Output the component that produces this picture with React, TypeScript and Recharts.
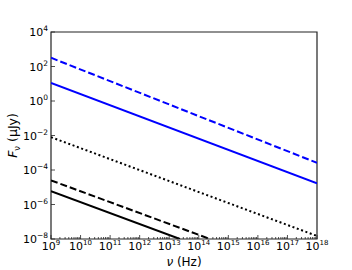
import { LineChart, Line, XAxis, YAxis, ReferenceArea } from "recharts"

// spectra (nu in Hz, flux in uJy); straight lines in log-log
const blueDashed = [
    { nu: 1e9, f: 320 },
    { nu: 1e18, f: 2.6e-4 },
]
const blueSolid = [
    { nu: 1e9, f: 11 },
    { nu: 1e18, f: 1.7e-5 },
]
const blackDotted = [
    { nu: 1e9, f: 8e-3 },
    { nu: 1e18, f: 1.5e-8 },
]
const blackDashed = [
    { nu: 1e9, f: 2.5e-5 },
    { nu: 2.4e14, f: 1e-8 },
]
const blackSolid = [
    { nu: 1e9, f: 6e-6 },
    { nu: 2.3e13, f: 1e-8 },
]

const xExponents = [9, 10, 11, 12, 13, 14, 15, 16, 17, 18]
const yExponents = [-8, -6, -4, -2, 0, 2, 4]

const LEFT = 51
const RIGHT = 317
const TOP = 32
const BOTTOM = 239
const W = 352
const H = 270
const FONT = "DejaVu Sans, sans-serif"

const xMinor: number[] = []
xExponents.slice(0, -1).forEach((e) => {
    for (let m = 2; m < 10; m++) xMinor.push(m * Math.pow(10, e))
})
const xTicks = [...xExponents.map((e) => Math.pow(10, e)), ...xMinor]

const sup = (e: number) => (e < 0 ? "\u2212" + Math.abs(e) : String(e))

function XTick(props: any) {
    const { x, payload } = props
    const e = Math.log10(payload.value)
    const major = Math.abs(e - Math.round(e)) < 1e-6
    if (!major) {
        return <line x1={x} x2={x} y1={BOTTOM} y2={BOTTOM - 2} stroke="#222" strokeWidth={0.8} />
    }
    return (
        <g>
            <line x1={x} x2={x} y1={BOTTOM} y2={BOTTOM - 4} stroke="#222" strokeWidth={0.8} />
            <text x={x} y={BOTTOM + 11} textAnchor="middle" fontFamily={FONT} fontSize={11} fill="#000">
                <tspan>10</tspan>
                <tspan dy={-5} fontSize={7}>{sup(Math.round(e))}</tspan>
            </text>
        </g>
    )
}

function YTick(props: any) {
    const { y, payload } = props
    const e = Math.round(Math.log10(payload.value))
    return (
        <g>
            <line x1={LEFT} x2={LEFT + 4} y1={y} y2={y} stroke="#222" strokeWidth={0.8} />
            <text x={LEFT - 3} y={y + 4} textAnchor="end" fontFamily={FONT} fontSize={11} fill="#000">
                <tspan>10</tspan>
                <tspan dy={-5} fontSize={7.5}>{sup(e)}</tspan>
            </text>
        </g>
    )
}

export default function App() {
    return (
        <div style={{ position: "absolute", left: 0, top: 0, width: W, height: H, background: "#fff" }}>
            <LineChart width={W} height={H} margin={{ top: TOP, right: W - RIGHT, bottom: 0, left: 0 }}>
                <XAxis
                    dataKey="nu"
                    type="number"
                    scale="log"
                    domain={[1e9, 1e18]}
                    allowDataOverflow
                    ticks={xTicks}
                    interval={0}
                    tick={<XTick />}
                    tickLine={false}
                    axisLine={false}
                    height={H - BOTTOM}
                />
                <YAxis
                    type="number"
                    scale="log"
                    domain={[1e-8, 1e4]}
                    allowDataOverflow
                    ticks={yExponents.map((e) => Math.pow(10, e))}
                    interval={0}
                    tick={<YTick />}
                    tickLine={false}
                    axisLine={false}
                    width={LEFT}
                />
                <Line data={blueDashed} dataKey="f" stroke="#0000ff" strokeWidth={2} strokeDasharray="7 3" dot={false} isAnimationActive={false} />
                <Line data={blueSolid} dataKey="f" stroke="#0000ff" strokeWidth={2} dot={false} isAnimationActive={false} />
                <Line data={blackDotted} dataKey="f" stroke="#000" strokeWidth={2} strokeDasharray="2 2.6" dot={false} isAnimationActive={false} />
                <Line data={blackDashed} dataKey="f" stroke="#000" strokeWidth={2} strokeDasharray="7 3" dot={false} isAnimationActive={false} />
                <Line data={blackSolid} dataKey="f" stroke="#000" strokeWidth={2} dot={false} isAnimationActive={false} />
                <ReferenceArea x1={1e9} x2={1e18} y1={1e-8} y2={1e4} fill="none" stroke="#222" strokeWidth={1.2} ifOverflow="visible" />
            </LineChart>
            <svg width={W} height={H} style={{ position: "absolute", left: 0, top: 0, pointerEvents: "none" }}>
                <text x={(LEFT + RIGHT) / 2} y={266} textAnchor="middle" fontFamily={FONT} fontSize={12} fill="#000">
                    <tspan fontStyle="italic">ν</tspan>
                    <tspan> (Hz)</tspan>
                </text>
                <text
                    transform={`translate(17, ${(TOP + BOTTOM) / 2}) rotate(-90)`}
                    textAnchor="middle"
                    fontFamily={FONT}
                    fontSize={12.5}
                    fill="#000"
                >
                    <tspan fontStyle="italic">F</tspan>
                    <tspan dy={3} fontSize={8.5}>ν</tspan>
                    <tspan dy={-3}> (μJy)</tspan>
                </text>
            </svg>
        </div>
    )
}
